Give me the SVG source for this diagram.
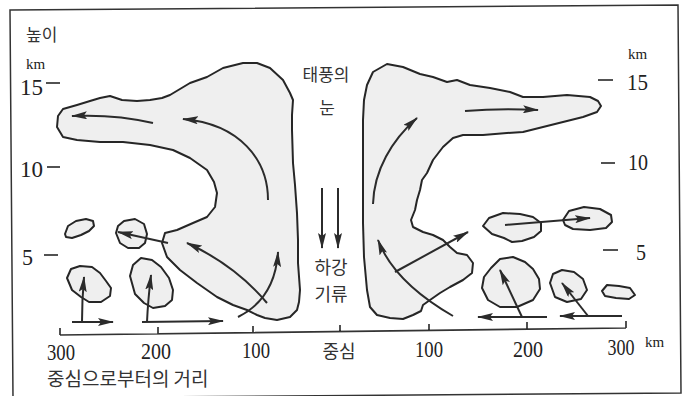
<svg xmlns="http://www.w3.org/2000/svg" width="685" height="396" viewBox="0 0 685 396">
  <defs>
    <marker id="head" viewBox="0 0 16 8" markerWidth="16" markerHeight="8" refX="15" refY="4" orient="auto" markerUnits="userSpaceOnUse">
      <path d="M0,0 L16,4 L0,8 L3,4 Z" fill="#2b2b2b"/>
    </marker>
    <style>
      .cloud { fill: #efefef; stroke: #262626; stroke-width: 2; stroke-linejoin: round; }
      .flow { fill: none; stroke: #2b2b2b; stroke-width: 2; marker-end: url(#head); }
      .axis { fill: none; stroke: #333; stroke-width: 1.7; }
      .num { font-family: 'Liberation Serif', 'DejaVu Serif', serif; fill: #222; }
      .ko { font-family: 'Noto Sans CJK KR', sans-serif; fill: #333; }
    </style>
  </defs>

  <rect x="0" y="0" width="685" height="396" fill="#fff"/>
  <polygon points="10,10 678,5 681,393 13,398" fill="none" stroke="#333" stroke-width="1.5"/>

  <!-- vertical scales -->
  <g id="height-scale-left">
    <text class="ko" x="26" y="41" font-size="17">높이</text>
    <text class="num" x="26" y="69" font-size="15">km</text>
    <text class="num" x="20" y="95" font-size="24" textLength="23" lengthAdjust="spacingAndGlyphs">15</text>
    <line class="axis" x1="46" y1="83" x2="60" y2="83"/>
    <text class="num" x="20" y="177" font-size="24" textLength="23" lengthAdjust="spacingAndGlyphs">10</text>
    <line class="axis" x1="47" y1="167" x2="60" y2="167"/>
    <text class="num" x="22" y="265" font-size="24" textLength="11" lengthAdjust="spacingAndGlyphs">5</text>
    <line class="axis" x1="44" y1="255" x2="58" y2="255"/>
  </g>
  <g id="height-scale-right">
    <text class="num" x="628" y="59" font-size="15">km</text>
    <line class="axis" x1="598" y1="80" x2="613" y2="80"/>
    <text class="num" x="627" y="90" font-size="24" textLength="21" lengthAdjust="spacingAndGlyphs">15</text>
    <line class="axis" x1="601" y1="163" x2="615" y2="163"/>
    <text class="num" x="628" y="170" font-size="24" textLength="20" lengthAdjust="spacingAndGlyphs">10</text>
    <line class="axis" x1="603" y1="250" x2="618" y2="250"/>
    <text class="num" x="636" y="260" font-size="24" textLength="10" lengthAdjust="spacingAndGlyphs">5</text>
  </g>

  <!-- clouds -->
  <g id="cloud-left-main">
    <path class="cloud" d="M57,127 L58,116 63,109 77,105 90,101 100,98 110,96 122,100 137,101 150,100 162,98 170,95 180,89 190,83 207,77 223,68 243,63 257,63 270,68 283,80 290,93 293,100 292,115 292,130 293,163 295,185 297,213 298,240 298,263 300,290 299,302 297,310 290,317 277,320 265,318 257,315 247,310 233,305 217,297 197,283 180,270 167,257 162,243 165,233 177,230 193,223 207,217 215,207 217,193 214,182 207,170 190,158 173,150 150,145 123,142 100,142 77,140 63,137 Z"/>
  </g>
  <g id="cloud-right-main">
    <path class="cloud" d="M387,64 L403,67 420,74 433,77 447,82 457,80 470,85 490,88 510,92 523,97 543,97 567,95 590,97 598,101 601,106 597,112 583,117 563,122 543,127 523,132 507,133 483,135 463,135 453,138 443,147 433,160 427,173 422,180 420,190 417,200 415,210 411,220 413,227 423,232 433,235 443,240 450,247 457,253 467,255 473,263 472,273 463,280 450,287 440,293 430,300 423,305 421,311 413,315 403,319 390,318 377,315 370,307 367,290 364,257 363,223 363,190 363,150 363,120 364,100 367,85 373,72 Z"/>
  </g>
  <g id="cloud-a"><path class="cloud" d="M65,234 L68,226 76,221 86,219 93,221 94,226 89,231 81,235 72,238 66,237 Z"/></g>
  <g id="cloud-b"><path class="cloud" d="M116,233 L118,226 124,221 135,219 144,224 147,234 145,243 139,248 128,248 120,243 Z"/></g>
  <g id="cloud-c"><path class="cloud" d="M67,278 L71,269 80,266 92,267 100,273 106,281 111,288 110,296 101,302 89,302 81,297 72,290 Z"/></g>
  <g id="cloud-d"><path class="cloud" d="M130,276 L133,265 141,258 152,260 161,267 169,278 173,290 172,300 165,306 153,308 144,303 135,294 Z"/></g>
  <g id="cloud-e"><path class="cloud" d="M483,226 L489,218 503,213 520,214 533,217 541,223 541,231 534,237 522,241 512,242 504,238 492,234 Z"/></g>
  <g id="cloud-f"><path class="cloud" d="M563,220 L569,211 584,207 600,209 611,215 612,222 606,228 590,230 573,229 565,225 Z"/></g>
  <g id="cloud-g"><path class="cloud" d="M482,288 L484,277 491,268 500,259 513,257 525,262 533,269 539,279 540,289 533,300 517,307 500,307 488,300 Z"/></g>
  <g id="cloud-h"><path class="cloud" d="M550,283 L553,274 562,270 574,272 583,279 587,290 581,299 567,302 555,297 Z"/></g>
  <g id="cloud-i"><path class="cloud" d="M602,291 L607,285 619,286 630,288 635,295 629,299 616,298 605,296 Z"/></g>

  <!-- labels -->
  <g id="eye-label">
    <text class="ko" x="326" y="81" font-size="17" text-anchor="middle">태풍의</text>
    <text class="ko" x="327" y="114" font-size="17" text-anchor="middle">눈</text>
  </g>
  <g id="downdraft-label">
    <text class="ko" x="331" y="274" font-size="18" text-anchor="middle">하강</text>
    <text class="ko" x="331" y="301" font-size="18" text-anchor="middle">기류</text>
  </g>

  <!-- air flow -->
  <g id="flows">
    <path class="flow" d="M153,123 Q115,114 72,116"/>
    <path class="flow" d="M268,200 C268,160 240,124 183,119"/>
    <path class="flow" d="M168,243 L118,232"/>
    <path class="flow" d="M267,303 Q235,265 187,243"/>
    <path class="flow" d="M238,317 C262,305 276,285 278,252"/>
    <path class="flow" d="M82,322 Q82,300 84,277"/>
    <path class="flow" d="M72,322 L113,322"/>
    <path class="flow" d="M147,322 Q148,300 151,275"/>
    <path class="flow" d="M142,322 L223,321"/>
    <path class="flow" d="M465,111 Q500,108 538,110"/>
    <path class="flow" d="M373,204 C374,170 392,140 417,118"/>
    <path class="flow" d="M453,316 Q394,282 378,240"/>
    <path class="flow" d="M395,272 L468,232"/>
    <path class="flow" d="M505,225 L590,218"/>
    <path class="flow" d="M547,317 L478,317"/>
    <path class="flow" d="M522,317 L500,270"/>
    <path class="flow" d="M622,316 L560,316"/>
    <path class="flow" d="M588,316 L562,283"/>
    <path class="flow" d="M322,188 L322,248"/>
    <path class="flow" d="M338,188 L338,248"/>
  </g>

  <!-- distance axis -->
  <g id="distance-axis">
    <path class="axis" d="M60,335 L626,328 M60,335 V328 M158,334 V327 M253,333 V326 M340,331.5 V325 M429,330.5 V324 M527,329 V322 M626,328 V321"/>
    <text class="num" x="61" y="360" font-size="24" text-anchor="middle" textLength="28" lengthAdjust="spacingAndGlyphs">300</text>
    <text class="num" x="156" y="359" font-size="24" text-anchor="middle" textLength="30" lengthAdjust="spacingAndGlyphs">200</text>
    <text class="num" x="256" y="358" font-size="24" text-anchor="middle" textLength="28" lengthAdjust="spacingAndGlyphs">100</text>
    <text class="ko" x="339" y="358" font-size="18" text-anchor="middle">중심</text>
    <text class="num" x="429" y="357" font-size="24" text-anchor="middle" textLength="28" lengthAdjust="spacingAndGlyphs">100</text>
    <text class="num" x="528" y="357" font-size="24" text-anchor="middle" textLength="30" lengthAdjust="spacingAndGlyphs">200</text>
    <text class="num" x="621" y="355" font-size="24" text-anchor="middle" textLength="27" lengthAdjust="spacingAndGlyphs">300</text>
    <text class="num" x="645" y="347" font-size="15">km</text>
    <text class="ko" x="47" y="386" font-size="19">중심으로부터의 거리</text>
  </g>
</svg>
